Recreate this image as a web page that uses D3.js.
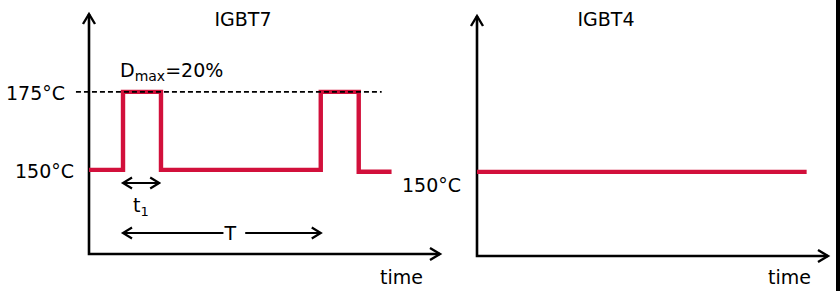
<!DOCTYPE html>
<html>
<head>
<meta charset="utf-8">
<script src="https://cdn.jsdelivr.net/npm/d3@7"></script>
<style>
  body { margin: 0; background: #fff; }
  svg { display: block; font-family: "DejaVu Sans", Verdana, sans-serif; }
</style>
</head>
<body>
<svg id="chart" width="840" height="291"></svg>
<script>
// time in units where T = 10, t1 = 2 (D = 20%)
var igbt7Time = [0, 1.72, 1.72, 3.64, 3.64, 11.72, 11.72, 13.64, 13.64, 15.3];
var igbt7Temp = [150, 150, 175, 175, 150, 150, 175, 175, 149.4, 149.4];
var igbt4Time = [0, 16.67];
var igbt4Temp = [150, 150];
var tempLabels = ['175°C', '150°C'];
var titles = ['IGBT7', 'IGBT4'];

var red = '#d2103b';
var svg = d3.select('#chart');

var panels = [
    {title: titles[0], x0: 89, y0: 254, time: igbt7Time, temp: igbt7Temp, titleX: 243},
    {title: titles[1], x0: 477, y0: 256, time: igbt4Time, temp: igbt4Temp, titleX: 606}
];

panels.forEach(function(p, i) {
    var x = d3.scaleLinear().domain([0, 17.75]).range([p.x0, p.x0 + 351]);
    var y = d3.scaleLinear().domain([123, 200]).range([p.y0, p.y0 - 240]);
    p.x = x; p.y = y;

    var g = svg.append('g');

    // axes
    g.append('path')
        .attr('d', 'M' + x(0) + ',' + y(200) + 'V' + y(123) + 'H' + x(17.75))
        .attr('fill', 'none').attr('stroke', '#000').attr('stroke-width', 2.6);
    // arrowheads
    g.append('path')
        .attr('d', 'M' + (x(0) - 6) + ',' + (y(200) + 10) + 'L' + x(0) + ',' + y(200) + 'L' + (x(0) + 6) + ',' + (y(200) + 10))
        .attr('fill', 'none').attr('stroke', '#000').attr('stroke-width', 2.4);
    g.append('path')
        .attr('d', 'M' + (x(17.75) - 10) + ',' + (y(123) - 6) + 'L' + x(17.75) + ',' + y(123) + 'L' + (x(17.75) - 10) + ',' + (y(123) + 6))
        .attr('fill', 'none').attr('stroke', '#000').attr('stroke-width', 2.4);

    // title
    g.append('text')
        .attr('x', p.titleX).attr('y', 26)
        .attr('text-anchor', 'middle')
        .attr('font-size', 19)
        .text(p.title);

    // time label
    g.append('text')
        .attr('x', x(17.75) - 17).attr('y', 284)
        .attr('text-anchor', 'end')
        .attr('font-size', 19)
        .text('time');

    // series
    var pts = p.time.map(function(t, k) { return [t, p.temp[k]]; });
    g.append('path')
        .datum(pts)
        .attr('d', d3.line().x(function(d) { return x(d[0]); }).y(function(d) { return y(d[1]); }))
        .attr('fill', 'none')
        .attr('stroke', red)
        .attr('stroke-width', 4.4)
        .attr('stroke-linejoin', 'miter');
});

// left panel annotations
var L = panels[0];
var xl = L.x, yl = L.y;

// 175 dashed reference
svg.append('line')
    .attr('x1', xl(-0.66)).attr('x2', xl(14.8))
    .attr('y1', yl(175)).attr('y2', yl(175))
    .attr('stroke', '#000').attr('stroke-width', 1.6)
    .attr('stroke-dasharray', '5,3');

svg.append('text').attr('x', 65).attr('y', yl(175) + 8)
    .attr('text-anchor', 'end').attr('font-size', 19).text(tempLabels[0]);
svg.append('text').attr('x', 74).attr('y', yl(150) + 8)
    .attr('text-anchor', 'end').attr('font-size', 19).text(tempLabels[1]);
svg.append('text').attr('x', 402).attr('y', panels[1].y(150) + 20)
    .attr('font-size', 19).text(tempLabels[1]);

// D_max label
var dm = svg.append('text').attr('x', 120).attr('y', 77).attr('font-size', 19);
dm.append('tspan').text('D');
dm.append('tspan').attr('font-size', 14).attr('dy', 4).text('max');
dm.append('tspan').attr('dy', -4).text('=20%');

function arrowLine(x1, x2, yy, heads) {
    var d = 'M' + x1 + ',' + yy + 'H' + x2;
    if (heads.left) d += 'M' + (x1 + 9) + ',' + (yy - 5.5) + 'L' + x1 + ',' + yy + 'L' + (x1 + 9) + ',' + (yy + 5.5);
    if (heads.right) d += 'M' + (x2 - 9) + ',' + (yy - 5.5) + 'L' + x2 + ',' + yy + 'L' + (x2 - 9) + ',' + (yy + 5.5);
    svg.append('path').attr('d', d)
        .attr('fill', 'none').attr('stroke', '#000').attr('stroke-width', 2.2);
}

// t1 arrow
arrowLine(xl(1.72), xl(3.55), 183, {left: true, right: true});
var t1 = svg.append('text').attr('x', 133).attr('y', 212).attr('font-size', 19);
t1.append('tspan').text('t');
t1.append('tspan').attr('font-size', 13).attr('dy', 4).text('1');

// T arrow
arrowLine(xl(1.72), xl(6.8), 233, {left: true});
arrowLine(xl(7.9), xl(11.72), 233, {right: true});
svg.append('text').attr('x', xl(7.15)).attr('y', 240)
    .attr('text-anchor', 'middle').attr('font-size', 19).text('T');

// right edge border
svg.append('rect').attr('x', 836).attr('y', 0).attr('width', 4).attr('height', 291).attr('fill', '#000');
</script>
</body>
</html>
